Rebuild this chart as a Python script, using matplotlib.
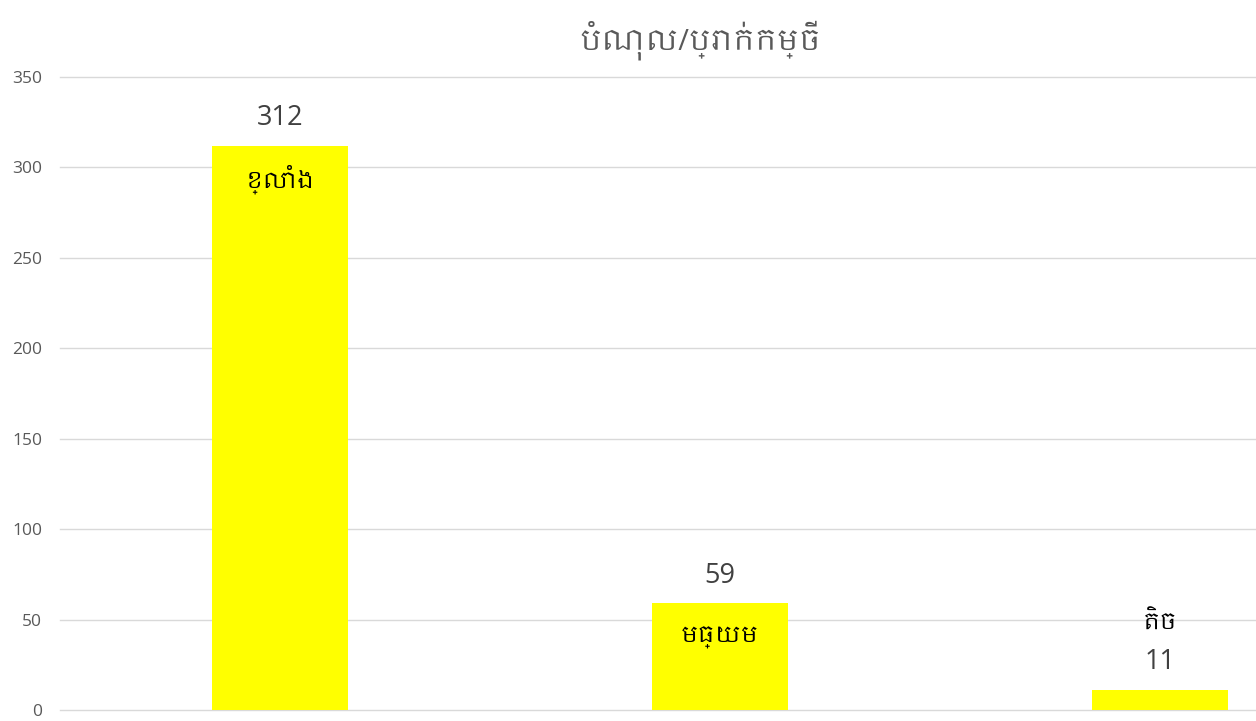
import numpy as np
from matplotlib import pyplot as plt
from matplotlib import font_manager

categories = ['ខ្លាំង', 'មធ្យម', 'តិច']
values = [312, 59, 11]
title = 'បំណុល/ប្រាក់កម្ចី'
y_ticks = [0, 50, 100, 150, 200, 250, 300, 350]


def find_khmer_font():
    # look for installed fonts that cover Khmer script, prefer a proper Khmer face
    try:
        from fontTools.ttLib import TTFont
    except ImportError:
        return None
    found = []
    for f in font_manager.fontManager.ttflist:
        try:
            cmap = TTFont(f.fname, fontNumber=0, lazy=True).getBestCmap()
        except Exception:
            continue
        if cmap and 0x1781 in cmap:
            found.append(f.name)
    if not found:
        return None

    def rank(name):
        n = name.lower()
        if 'khmer' in n:
            return 0
        if 'unifont' in n or 'mono' in n:
            return 2
        return 1
    return sorted(found, key=rank)[0]


khmer = find_khmer_font()
families = ['Open Sans'] + ([khmer] if khmer else []) + ['DejaVu Sans']
plt.rcParams['font.family'] = families

fig = plt.figure(figsize=(12.56, 7.21), dpi=100)
# plot area starts at x=60px and runs past the right edge of the picture
ax = fig.add_axes([60 / 1256, 11 / 721, 1196 / 1256, 633 / 721])

x = np.arange(len(categories))
bars = ax.bar(x, values, width=0.31, color='#ffff00', zorder=2)

ax.set_xlim(-0.5, -0.5 + 1196 / 440)
ax.set_ylim(0, 350)
ax.set_yticks(y_ticks)
ax.yaxis.grid(True, color='#d9d9d9', linewidth=1, zorder=0)
for gl in ax.get_ygridlines():
    gl.set_clip_on(False)
ax.set_xticks([])
for s in ax.spines.values():
    s.set_visible(False)
ax.tick_params(axis='y', length=0, pad=13, labelsize=12.5, labelcolor='#595959')

for xi, v, cat in zip(x, values, categories):
    ax.annotate(str(v), (xi, v), xytext=(0, 20), textcoords='offset points',
                ha='center', va='center', fontsize=19.5, color='#404040')
    if v > 30:
        ax.annotate(cat, (xi, v), xytext=(0, -24), textcoords='offset points',
                    ha='center', va='center', fontsize=16.5, color='black')
    else:
        ax.annotate(cat, (xi, v), xytext=(0, 48), textcoords='offset points',
                    ha='center', va='center', fontsize=16.5, color='black')

fig.text(700 / 1256, 1 - 40 / 721, title, ha='center', va='center',
         fontsize=21, color='#595959')

fig.savefig('out.png', dpi=100)
plt.close()
